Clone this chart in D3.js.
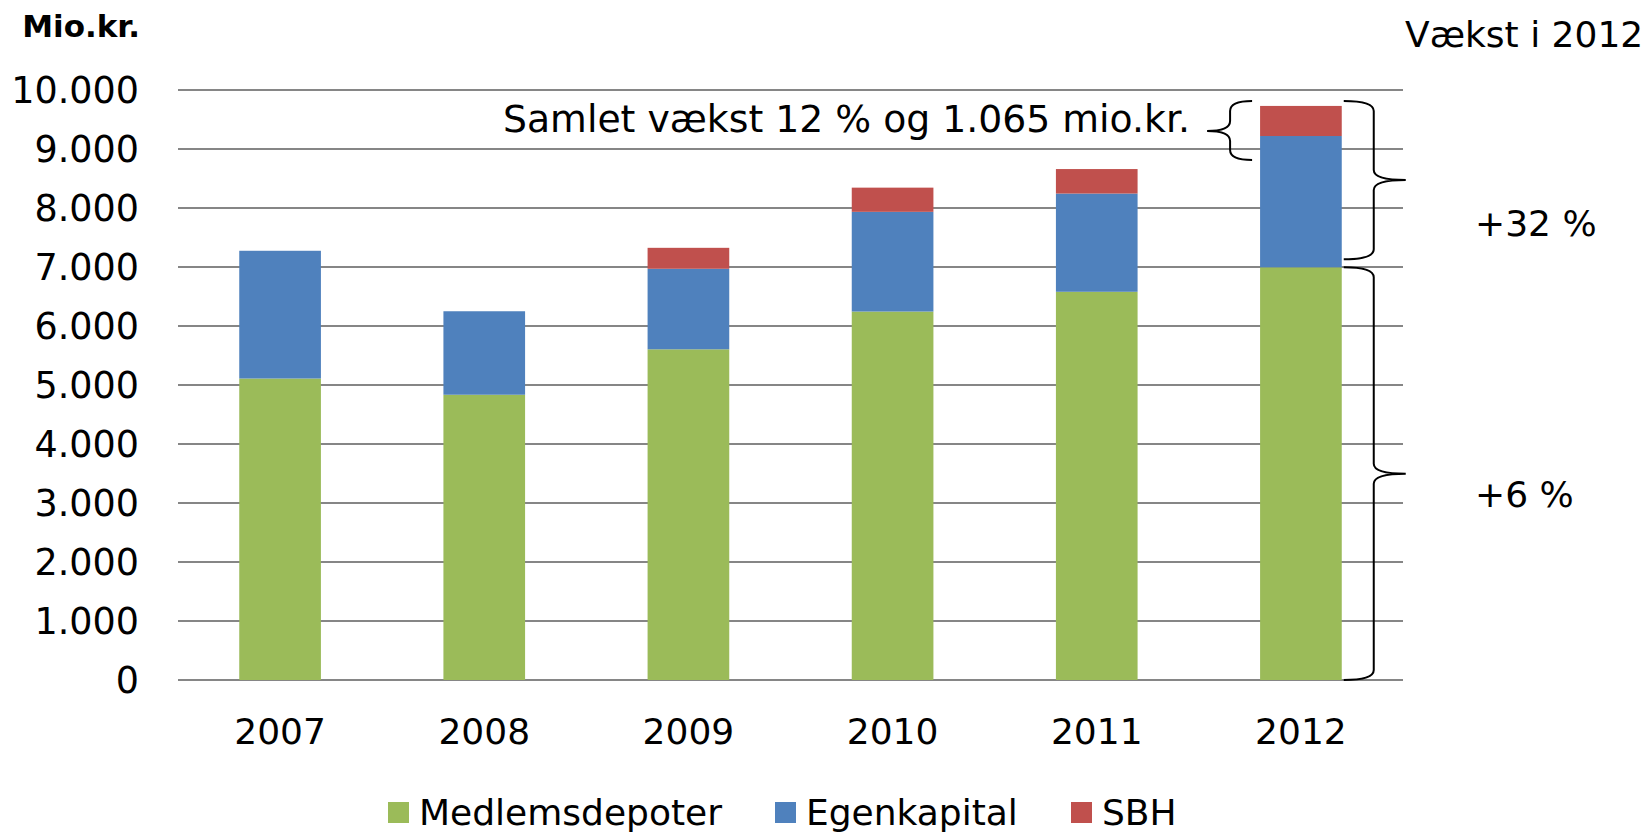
<!DOCTYPE html>
<html>
<head>
<meta charset="utf-8">
<script src="https://cdn.jsdelivr.net/npm/d3@7"></script>
<style>
  body { margin: 0; background: #fff; }
  text { font-family: "DejaVu Sans", Verdana, sans-serif; fill: #000; }
</style>
</head>
<body>
<div id="chart"></div>
<script>
// Chart data (mio.kr.)
var years = ["2007", "2008", "2009", "2010", "2011", "2012"];
var medlemsdepoter = [5110, 4835, 5605, 6245, 6580, 6995];
var egenkapital = [2165, 1415, 1365, 1690, 1665, 2225];
var sbh = [0, 0, 355, 410, 415, 510];
var seriesNames = ["Medlemsdepoter", "Egenkapital", "SBH"];
var seriesColors = ["#9BBB59", "#4F81BD", "#C0504D"];
var yTicks = [0, 1000, 2000, 3000, 4000, 5000, 6000, 7000, 8000, 9000, 10000];

var svgWidth = 1651;
var svgHeight = 833;

var margin = { top: 90, right: 248, bottom: 153, left: 178 };
var width = svgWidth - margin.left - margin.right;
var height = svgHeight - margin.top - margin.bottom;

var svg = d3.select("#chart")
  .append("svg")
  .attr("width", svgWidth)
  .attr("height", svgHeight);

var chartGroup = svg.append("g")
  .attr("transform", `translate(${margin.left}, ${margin.top})`);

// build rows for the stack
var rows = years.map(function(y, i) {
  return { year: y, Medlemsdepoter: medlemsdepoter[i], Egenkapital: egenkapital[i], SBH: sbh[i] };
});
var stacked = d3.stack().keys(seriesNames)(rows);

var xBandScale = d3.scaleBand()
  .domain(years)
  .range([0, width])
  .paddingInner(0.6)
  .paddingOuter(0.3);

var yLinearScale = d3.scaleLinear()
  .domain([0, 10000])
  .range([height, 0]);

var fmt = function(v) { return d3.format(",")(v).replace(/,/g, "."); };

// gridlines
chartGroup.append("g")
  .selectAll("line")
  .data(yTicks)
  .enter()
  .append("line")
  .attr("x1", 0)
  .attr("x2", width)
  .attr("y1", d => yLinearScale(d))
  .attr("y2", d => yLinearScale(d))
  .attr("stroke", "#868686")
  .attr("stroke-width", 2);

// y tick labels
chartGroup.append("g")
  .selectAll("text")
  .data(yTicks)
  .enter()
  .append("text")
  .attr("x", -39)
  .attr("y", d => yLinearScale(d))
  .attr("dy", "0.36em")
  .attr("text-anchor", "end")
  .style("font-size", "36.5px")
  .text(d => fmt(d));

// bars
chartGroup.selectAll(".series")
  .data(stacked)
  .enter()
  .append("g")
  .attr("class", "series")
  .attr("fill", (d, i) => seriesColors[i])
  .selectAll("rect")
  .data(d => d)
  .enter()
  .append("rect")
  .attr("x", d => xBandScale(d.data.year))
  .attr("y", d => yLinearScale(d[1]))
  .attr("width", xBandScale.bandwidth())
  .attr("height", d => yLinearScale(d[0]) - yLinearScale(d[1]));

// x labels
chartGroup.append("g")
  .selectAll("text")
  .data(years)
  .enter()
  .append("text")
  .attr("x", d => xBandScale(d) + xBandScale.bandwidth() / 2)
  .attr("y", height + 64)
  .attr("text-anchor", "middle")
  .style("font-size", "36px")
  .text(d => d);

// unit label and growth header
svg.append("text")
  .attr("x", 140)
  .attr("y", 37)
  .attr("text-anchor", "end")
  .style("font-size", "31px")
  .style("font-weight", "bold")
  .text("Mio.kr.");

svg.append("text")
  .attr("x", 1405)
  .attr("y", 47)
  .style("font-size", "36px")
  .text("Vækst i 2012");

// curly braces
function braceRight(x0, x1, x2, yTop, yMid, yBot, r) {
  return `M${x0},${yTop} Q${x1},${yTop} ${x1},${yTop + r} L${x1},${yMid - r} ` +
    `Q${x1},${yMid} ${x2},${yMid} Q${x1},${yMid} ${x1},${yMid + r} ` +
    `L${x1},${yBot - r} Q${x1},${yBot} ${x0},${yBot}`;
}

var last = years.length - 1;
var barRight = xBandScale(years[last]) + xBandScale.bandwidth();
var barLeft = xBandScale(years[last]);
var yTotal = yLinearScale(medlemsdepoter[last] + egenkapital[last] + sbh[last]);
var yGreen = yLinearScale(medlemsdepoter[last]);
var yZero = yLinearScale(0);

var braceG = chartGroup.append("g")
  .attr("fill", "none")
  .attr("stroke", "#000")
  .attr("stroke-width", 2);

// upper (Egenkapital + SBH)
braceG.append("path")
  .attr("d", braceRight(barRight + 2, barRight + 32, barRight + 64, yTotal - 5, (yTotal - 5 + yGreen - 8) / 2, yGreen - 8, 10));

// lower (Medlemsdepoter)
braceG.append("path")
  .attr("d", braceRight(barRight + 2, barRight + 32, barRight + 64, yGreen, (yGreen + yZero) / 2, yZero, 10));

// small left brace for total growth
braceG.append("path")
  .attr("d", braceRight(barLeft - 8, barLeft - 30, barLeft - 53, yTotal - 5, yTotal + 25, yTotal + 54, 10));

// annotations
svg.append("text")
  .attr("x", 503)
  .attr("y", 132)
  .attr("textLength", 687)
  .attr("lengthAdjust", "spacingAndGlyphs")
  .style("font-size", "36.5px")
  .text("Samlet vækst 12 % og 1.065 mio.kr.");

svg.append("text")
  .attr("x", 1475)
  .attr("y", 236)
  .style("font-size", "36px")
  .text("+32 %");

svg.append("text")
  .attr("x", 1475)
  .attr("y", 507)
  .style("font-size", "36px")
  .text("+6 %");

// legend
var legendX = [388, 775, 1071];
var legend = svg.append("g");
seriesNames.forEach(function(name, i) {
  legend.append("rect")
    .attr("x", legendX[i])
    .attr("y", 802)
    .attr("width", 21)
    .attr("height", 21)
    .attr("fill", seriesColors[i]);
  legend.append("text")
    .attr("x", legendX[i] + 31)
    .attr("y", 825)
    .style("font-size", "36px")
    .text(name);
});
</script>
</body>
</html>
